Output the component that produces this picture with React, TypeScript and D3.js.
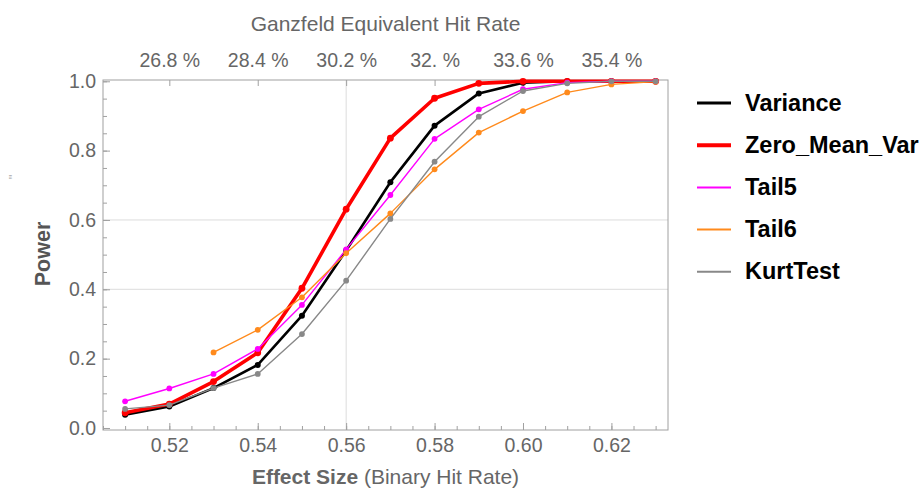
import React, { useEffect, useRef } from 'react';
import * as d3 from 'd3';

const width = 921;
const height = 489;
const margin = { top: 80, right: 253, bottom: 59, left: 103 };
const font = '"Liberation Sans", Arial, Helvetica, sans-serif';
const tickGray = '#666';
const frameGray = '#a0a0a0';
const gridGray = '#dcdcdc';

// data
const effectSizes = [0.51, 0.52, 0.53, 0.54, 0.55, 0.56, 0.57, 0.58, 0.59, 0.6, 0.61, 0.62, 0.63];
const variance = [0.038, 0.062, 0.115, 0.182, 0.324, 0.512, 0.709, 0.872, 0.965, 0.996, 1.0, 1.0, 1.0];
const zeroMeanVar = [0.044, 0.069, 0.134, 0.217, 0.403, 0.631, 0.836, 0.951, 0.994, 1.0, 1.0, 1.0, 1.0];
const tail5 = [0.077, 0.114, 0.156, 0.228, 0.355, 0.515, 0.672, 0.834, 0.919, 0.977, 0.996, 1.0, 1.0];
const tail6 = [null, null, 0.218, 0.283, 0.377, 0.504, 0.619, 0.746, 0.852, 0.914, 0.968, 0.991, 0.999];
const kurtTest = [0.055, 0.066, 0.115, 0.156, 0.271, 0.425, 0.603, 0.768, 0.898, 0.972, 0.994, 1.0, 1.0];

const seriesNames = ['Variance', 'Zero_Mean_Var', 'Tail5', 'Tail6', 'KurtTest'];
const seriesValues = [variance, zeroMeanVar, tail5, tail6, kurtTest];
const seriesColors = ['#000000', '#ff0000', '#ff00ff', '#ff8a1c', '#888888'];
const lineWidths = [2.6, 3.6, 1.4, 1.4, 1.4];
const dotRadius = [3, 3.4, 2.9, 2.9, 2.9];
const legendWidths = [3, 4, 2, 2, 2];

// ticks
const xMajorTicks = [0.52, 0.54, 0.56, 0.58, 0.6, 0.62];
const xTickLabels = ['0.52', '0.54', '0.56', '0.58', '0.60', '0.62'];
const hitRateLabels = ['26.8 %', '28.4 %', '30.2 %', '32. %', '33.6 %', '35.4 %'];
const yMajorTicks = [0, 0.2, 0.4, 0.6, 0.8, 1.0];
const yTickLabels = ['0.0', '0.2', '0.4', '0.6', '0.8', '1.0'];
const gridX = [0.56];
const gridY = [0.4, 0.6];

const xScale = d3.scaleLinear().domain([0.505, 0.6328]).range([margin.left, width - margin.right]);
const yScale = d3.scaleLinear().domain([-0.0058, 1.0037]).range([height - margin.bottom, margin.top]);

const xMinor = d3.range(0, 26).map(i => 0.505 + i * 0.005);
const yMinor = d3.range(0, 21).map(i => i * 0.05);

export default function App() {
  const xAxisRef = useRef<SVGGElement>(null);
  const xMinorRef = useRef<SVGGElement>(null);
  const topAxisRef = useRef<SVGGElement>(null);
  const yAxisRef = useRef<SVGGElement>(null);
  const yMinorRef = useRef<SVGGElement>(null);

  useEffect(() => {
    const style = (g: any) => {
      g.select('.domain').remove();
      g.selectAll('line').attr('stroke', frameGray);
      g.selectAll('text')
        .attr('fill', tickGray)
        .style('font-family', font)
        .style('font-size', '19.5px');
    };

    d3.select(xAxisRef.current!)
      .call(d3.axisBottom(xScale).tickValues(xMajorTicks).tickSize(-7).tickPadding(8)
        .tickFormat((d, i) => xTickLabels[i]) as any)
      .call(style);
    d3.select(xMinorRef.current!)
      .call(d3.axisBottom(xScale).tickValues(xMinor).tickSize(-4).tickFormat(() => '') as any)
      .call(style);
    d3.select(topAxisRef.current!)
      .call(d3.axisTop(xScale).tickValues(xMajorTicks).tickSize(-6).tickPadding(13)
        .tickFormat((d, i) => hitRateLabels[i]) as any)
      .call(style);
    d3.select(yAxisRef.current!)
      .call(d3.axisLeft(yScale).tickValues(yMajorTicks).tickSize(-7).tickPadding(7)
        .tickFormat((d, i) => yTickLabels[i]) as any)
      .call(style);
    d3.select(yMinorRef.current!)
      .call(d3.axisLeft(yScale).tickValues(yMinor).tickSize(-4).tickFormat(() => '') as any)
      .call(style);
  }, []);

  const line = d3.line<number | null>()
    .defined(d => d != null)
    .x((d, i) => xScale(effectSizes[i]))
    .y(d => yScale(d as number));

  const plotBottom = height - margin.bottom;
  const plotTop = margin.top;
  const plotLeft = margin.left;
  const plotRight = width - margin.right;
  const midX = (plotLeft + plotRight) / 2;

  return (
    <svg width={width} height={height} style={{ position: 'absolute', left: 0, top: 0, background: '#fff' }}>
      <rect width={width} height={height} fill="#fff" />
      {gridX.map(v => (
        <line key={'gx' + v} x1={xScale(v)} x2={xScale(v)} y1={plotTop} y2={plotBottom} stroke={gridGray} strokeWidth={1} />
      ))}
      {gridY.map(v => (
        <line key={'gy' + v} x1={plotLeft} x2={plotRight} y1={yScale(v)} y2={yScale(v)} stroke={gridGray} strokeWidth={1} />
      ))}

      <g ref={xMinorRef} transform={`translate(0, ${plotBottom})`} />
      <g ref={xAxisRef} transform={`translate(0, ${plotBottom})`} />
      <g ref={topAxisRef} transform={`translate(0, ${plotTop})`} />
      <g ref={yMinorRef} transform={`translate(${plotLeft}, 0)`} />
      <g ref={yAxisRef} transform={`translate(${plotLeft}, 0)`} />

      <rect x={plotLeft} y={plotTop} width={plotRight - plotLeft} height={plotBottom - plotTop}
        fill="none" stroke={frameGray} strokeWidth={1} />

      {seriesValues.map((vals, s) => (
        <g key={seriesNames[s]}>
          <path d={line(vals) || ''} fill="none" stroke={seriesColors[s]} strokeWidth={lineWidths[s]}
            strokeLinejoin="round" />
          {vals.map((v, i) => v == null ? null : (
            <circle key={i} cx={xScale(effectSizes[i])} cy={yScale(v)} r={dotRadius[s]} fill={seriesColors[s]} />
          ))}
        </g>
      ))}

      <text x={midX} y={31} textAnchor="middle" fill={tickGray}
        style={{ fontFamily: font, fontSize: '21px' }}>Ganzfeld Equivalent Hit Rate</text>

      <text x={midX} y={484} textAnchor="middle" fill={tickGray} style={{ fontFamily: font, fontSize: '21px' }}>
        <tspan fontWeight="bold">Effect Size</tspan> (Binary Hit Rate)
      </text>

      <text transform="translate(50, 254) rotate(-90)" textAnchor="middle" fill="#555"
        style={{ fontFamily: font, fontSize: '21.5px', fontWeight: 'bold' }}>Power</text>

      <text transform="translate(18, 177) rotate(-90)" textAnchor="middle" fill="#aaa"
        style={{ fontFamily: font, fontSize: '13px' }}>"</text>

      {seriesNames.map((name, i) => (
        <g key={name} transform={`translate(697, ${103 + i * 42.2})`}>
          <line x1={0} x2={34} y1={0} y2={0} stroke={seriesColors[i]} strokeWidth={legendWidths[i]} />
          <text x={48} y={7.5} fill="#000" style={{ fontFamily: font, fontSize: '23.5px', fontWeight: 'bold' }}>{name}</text>
        </g>
      ))}
    </svg>
  );
}
